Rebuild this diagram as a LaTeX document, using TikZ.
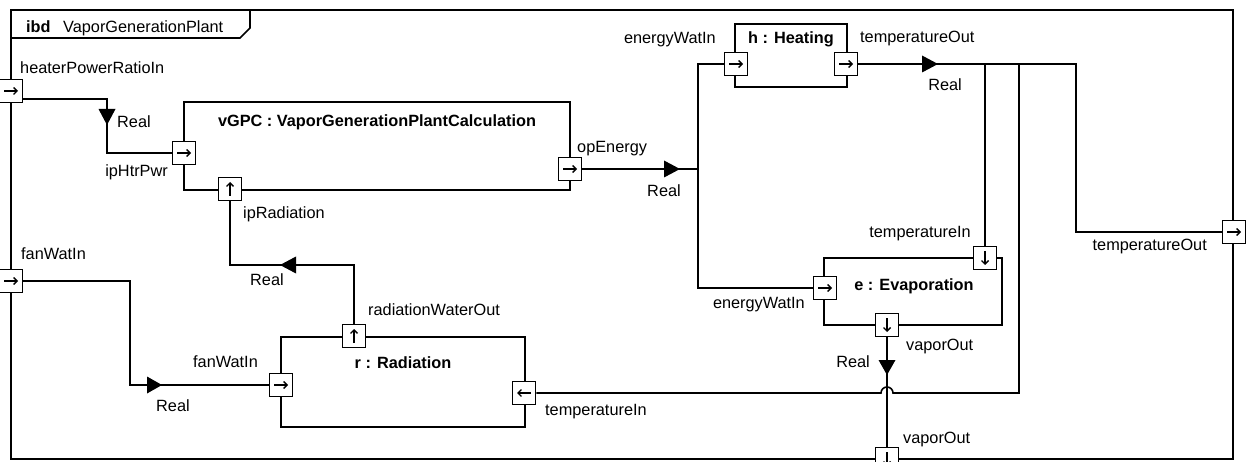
\documentclass[tikz,border=0pt]{standalone}
\usepackage{fontspec}
\setmainfont{Liberation Sans}
\usetikzlibrary{arrows.meta}
\begin{document}
\begin{tikzpicture}[x=1pt,y=-1pt,
  every node/.style={inner sep=0pt, font=\fontsize{16.3}{19}\selectfont},
  lab/.style={},
  ttl/.style={font=\fontsize{16.3}{19}\selectfont\bfseries},
  conn/.style={line width=1.6pt, line join=miter},
  partbox/.style={draw, line width=1.6pt, rectangle},
  port/.style={draw, fill=white, line width=1.5pt, rectangle, minimum size=23pt},
  parrow/.style={line width=1.4pt, -{Straight Barb[length=3.5pt,width=7pt]}},
  portR/.style={port, path picture={\draw[parrow] ([xshift=-7pt]path picture bounding box.center) -- ([xshift=7pt]path picture bounding box.center);}},
  portL/.style={port, path picture={\draw[parrow] ([xshift=7pt]path picture bounding box.center) -- ([xshift=-7pt]path picture bounding box.center);}},
  portU/.style={port, path picture={\draw[parrow] ([yshift=-7pt]path picture bounding box.center) -- ([yshift=7pt]path picture bounding box.center);}},
  portD/.style={port, path picture={\draw[parrow] ([yshift=7pt]path picture bounding box.center) -- ([yshift=-7pt]path picture bounding box.center);}},
  tri/.style={fill=black}
]
\useasboundingbox (0,0) rectangle (1252,462);
% frame
\draw[line width=1.6pt] (11,10) rectangle (1233,459);
\draw[line width=1.6pt] (11,38) -- (240,38) -- (250,28) -- (250,10);
\node[ttl, anchor=base west] (ibd) at (26,33) {ibd};
\node[anchor=base west] (fname) at (63,33) {VaporGenerationPlant};

% parts
\node[partbox, minimum width=386pt, minimum height=88pt] (vgpc) at (377,146) {};
\node[partbox, minimum width=112pt, minimum height=63pt] (heat) at (791,55.5) {};
\node[partbox, minimum width=178pt, minimum height=67pt] (evap) at (913,291.5) {};
\node[partbox, minimum width=244pt, minimum height=90pt] (rad) at (403,382) {};
\node[ttl, anchor=base] (tvgpc) at (377,127) {vGPC : VaporGenerationPlantCalculation};
\node[ttl, anchor=base] (theat) at (791,44) {h : Heating};
\node[ttl, anchor=base] (tevap) at (914,290) {e : Evaporation};
\node[ttl, anchor=base] (trad) at (403,368) {r : Radiation};

% ports
\node[portR] (pHeat) at (11,91) {};
\node[portR] (pFanF) at (11,281) {};
\node[portR] (pTout) at (1234,232) {};
\node[portD] (pVapF) at (887,459) {};
\node[portR] (pHtr) at (184,153) {};
\node[portU] (pRad) at (230,189) {};
\node[portR] (pOpE) at (570,169) {};
\node[portR] (pHE) at (736,64) {};
\node[portR] (pHT) at (846,64) {};
\node[portR] (pEE) at (825,288) {};
\node[portD] (pET) at (985,258) {};
\node[portD] (pEV) at (887,325) {};
\node[portR] (pRF) at (281,385) {};
\node[portU] (pRW) at (354,336) {};
\node[portL] (pRT) at (524,393) {};

% connector coordinates
\coordinate (k1) at (107,120);
\coordinate (jE) at (698,169);
\coordinate (t2) at (1019,393);
\coordinate (hopR) at (893,393);
\coordinate (t3) at (1076,150);
\coordinate (k5) at (300,265);
\coordinate (k6) at (130,330);

% connectors
\draw[conn] ([yshift=-8pt]pHeat.east) -| (k1) |- (pHtr.west);
\draw[conn] (pOpE.east) -- (jE);
\draw[conn] (pHE.west) -| (jE) |- (pEE.west);
\draw[conn] (pHT.east) -| (pET.north);
\draw[conn] (pHT.east) -| (t2) -- (hopR) arc[start angle=0, end angle=180, radius=6pt] -- (pRT.east);
\draw[conn] (pHT.east) -| (t3) |- (pTout.west);
\draw[conn] (pEV.south) -- (pVapF.north);
\draw[conn] (pRW.north) |- (k5) -| (pRad.south);
\draw[conn] (pFanF.east) -| (k6) |- (pRF.west);

% flow triangles
\fill[tri] (98.5,109) -- (115.5,109) -- (107,125) -- cycle;
\fill[tri] (664,160.5) -- (664,177.5) -- (680,169) -- cycle;
\fill[tri] (922,55.5) -- (922,72.5) -- (938,64) -- cycle;
\fill[tri] (878.5,360) -- (895.5,360) -- (887,375) -- cycle;
\fill[tri] (296,256.5) -- (296,273.5) -- (280,265) -- cycle;
\fill[tri] (147,376.5) -- (147,393.5) -- (162,385) -- cycle;

% labels
\node[anchor=base west] (lHeat) at (20,74) {heaterPowerRatioIn};
\node[anchor=base west] (r1) at (117,128) {Real};
\node[anchor=base east] (lHtr) at (168,177) {ipHtrPwr};
\node[anchor=base west] (lRad) at (243,219) {ipRadiation};
\node[anchor=base west] (lOpE) at (577,153) {opEnergy};
\node[anchor=base] (r2) at (664,197) {Real};
\node[anchor=base east] (lHE) at (716,44) {energyWatIn};
\node[anchor=base west] (lHT) at (860,43) {temperatureOut};
\node[anchor=base] (r3) at (945,91) {Real};
\node[anchor=base east] (lET) at (971,238) {temperatureIn};
\node[anchor=base east] (lEE) at (805,308) {energyWatIn};
\node[anchor=base west] (lEV) at (906,350) {vaporOut};
\node[anchor=base east] (r4) at (870,367) {Real};
\node[anchor=base west] (lVapF) at (903,443) {vaporOut};
\node[anchor=base east] (lTout) at (1207,251) {temperatureOut};
\node[anchor=base west] (r5) at (250,285) {Real};
\node[anchor=base west] (lRW) at (368,315) {radiationWaterOut};
\node[anchor=base west] (lRF) at (193,367) {fanWatIn};
\node[anchor=base west] (r6) at (156,411) {Real};
\node[anchor=base west] (lRT) at (545,415) {temperatureIn};
\node[anchor=base west] (lFanF) at (21,260) {fanWatIn};
\end{tikzpicture}
\end{document}
